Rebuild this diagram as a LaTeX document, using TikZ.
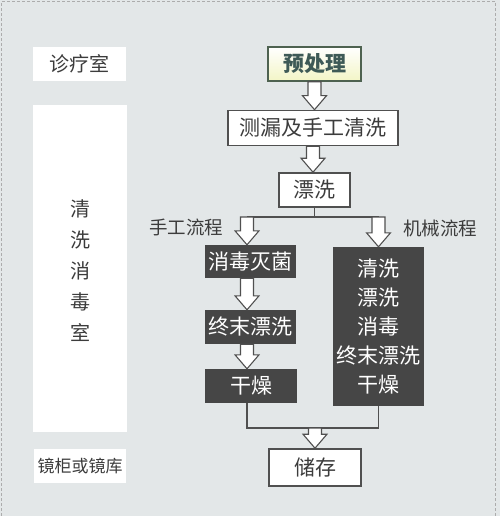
\documentclass[tikz,border=0pt]{standalone}
\usepackage{fontspec}
\setmainfont{Noto Sans CJK SC}
\usetikzlibrary{calc}
\definecolor{bg}{HTML}{E3E7E8}
\definecolor{edge}{HTML}{505050}
\definecolor{darkbox}{HTML}{464646}
\definecolor{txt}{HTML}{3C3C3C}
\definecolor{pregreen}{HTML}{4E6250}
\definecolor{pretext}{HTML}{3E5A56}
\definecolor{preyellow}{HTML}{F3F5C6}
\tikzset{
  side/.style={fill=white, draw=none, inner sep=0pt, text=txt, font=\fontsize{20}{23}\selectfont},
  wbox/.style={fill=white, draw=edge, line width=1.6pt, inner sep=0pt, text=txt, font=\fontsize{21}{24}\selectfont},
  dbox/.style={fill=darkbox, draw=none, inner sep=0pt, text=white, font=\fontsize{21}{24}\selectfont},
  flowlabel/.style={text=txt, inner sep=0pt, font=\fontsize{18.5}{21}\selectfont},
  harrow/.style={fill=white, draw=edge, line width=1.1pt, line join=miter},
  link/.style={draw=edge, line width=1.2pt},
}
\newcommand{\harr}[2]{\draw[harrow] let \p1=(#1), \p2=(#2) in
  (\x1-6.5pt,\y1) -- (\x1-6.5pt,\y2+14pt) -- (\x1-12pt,\y2+14pt) -- (\x1,\y2) --
  (\x1+12pt,\y2+14pt) -- (\x1+6.5pt,\y2+14pt) -- (\x1+6.5pt,\y1) -- cycle;}
\begin{document}
\begin{tikzpicture}[x=1pt,y=-1pt]
\useasboundingbox (0,0) rectangle (500,516);
\fill[bg] (0,0) rectangle (500,516);
\draw[gray!65, line width=1.2pt, dash pattern=on 3pt off 2pt] (1.5,516) -- (1.5,1.5) -- (495.5,1.5) -- (495.5,516);

% side labels
\node[side, minimum width=93, minimum height=34] (clinic) at (79.5,64) {诊疗室};
\node[side, minimum width=94, minimum height=327] (washroom) at (80,268.5) {};
\node[text=txt, font=\fontsize{20}{31}\selectfont, align=center, inner sep=0pt] (washtext) at (80,271) {清\\洗\\消\\毒\\室};
\node[side, minimum width=92, minimum height=34, font=\fontsize{17}{20}\selectfont] (store) at (80,466) {镜柜或镜库};

% main flow
\node[draw=pregreen, line width=1.6pt, inner sep=0pt, minimum width=93, minimum height=34,
      top color=white, bottom color=preyellow, text=pretext, font=\fontsize{21}{24}\selectfont\bfseries] (pre) at (314.5,64) {预处理};
\node[wbox, minimum width=170, minimum height=35] (leak) at (313,128) {测漏及手工清洗};
\node[wbox, minimum width=71, minimum height=34] (rinse) at (314.5,190) {漂洗};

\node[dbox, minimum width=91, minimum height=33] (disinf) at (250.5,261.5) {消毒灭菌};
\node[dbox, minimum width=91, minimum height=34] (final) at (250.5,327) {终末漂洗};
\node[dbox, minimum width=92, minimum height=34] (dry) at (251,386) {干燥};

\node[dbox, minimum width=91, minimum height=159, align=center, font=\fontsize{21}{29}\selectfont] (machine) at (378.5,326.5) {清洗\\漂洗\\消毒\\终末漂洗\\干燥};

\node[wbox, minimum width=92, minimum height=37] (storage) at (315,467.5) {储存};

\node[flowlabel] (manlabel) at (186,227) {手工流程};
\node[flowlabel] (maclabel) at (440,228) {机械流程};

% connectors
\harr{pre.south}{leak.north}
\harr{leak.south}{rinse.north}

\coordinate (split) at (rinse.south |- 0,217);
\coordinate (splitL) at (247,217);
\coordinate (splitR) at (machine.north |- 0,217);
\draw[link] (rinse.south) -- (split);
\draw[link] (splitL) -- (splitR);
\harr{splitL}{disinf.north -| splitL}
\harr{splitR}{machine.north}
\harr{disinf.south -| splitL}{final.north -| splitL}
\harr{final.south -| splitL}{dry.north -| splitL}

\coordinate (mergeL) at (dry.south -| splitL);
\coordinate (mergeLb) at (247,428);
\coordinate (mergeR) at (machine.south |- 0,428);
\coordinate (mergeC) at (storage.north |- 0,428);
\draw[link] (mergeL) -- (mergeLb) -- (mergeR) -- (machine.south);
\harr{mergeC}{storage.north}
\end{tikzpicture}
\end{document}
